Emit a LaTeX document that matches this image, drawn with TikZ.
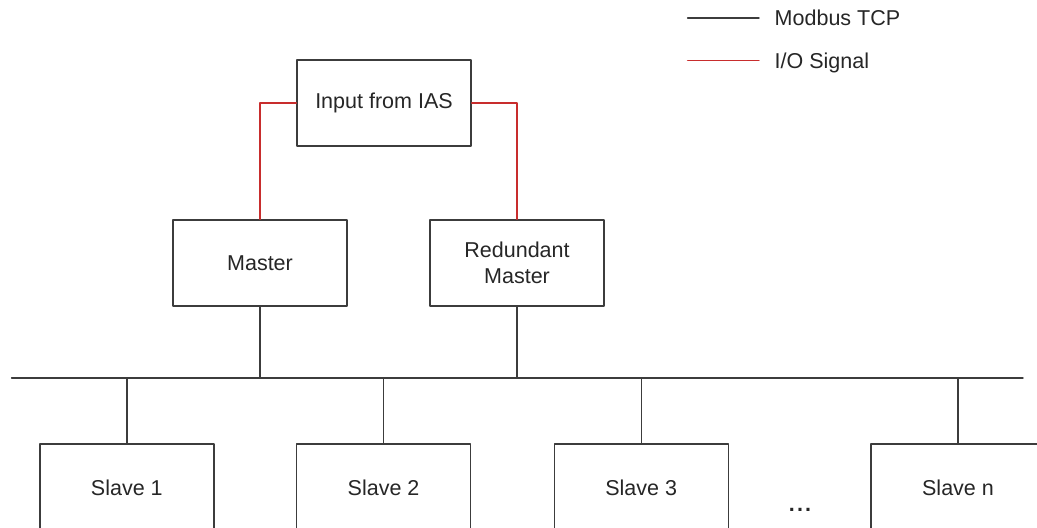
\documentclass[tikz,border=0pt]{standalone}
\usepackage{fontspec}
\setmainfont{Liberation Sans}

\definecolor{linegray}{RGB}{60,60,60}
\definecolor{iored}{RGB}{200,45,45}

\tikzset{
	unit/.style={draw=linegray, minimum width=4.35cm, minimum height=2.15cm, align=center, text=black!85},
	bus/.style={draw=linegray},
	signal/.style={draw=iored},
	legend/.style={anchor=base west, inner sep=0pt, text=black!85}
}

\begin{document}
\begin{tikzpicture}[line cap=round, line join=round, line width=1pt, font=\fontsize{15.3}{18.4}\selectfont]
				\clip (0,0) rectangle (25.925,13.2);
				% legend
				\coordinate (tcpA) at (17.19,12.75);
				\coordinate (tcpB) at (18.975,12.75);
				\coordinate (ioA) at (17.19,11.68);
				\coordinate (ioB) at (18.975,11.68);
				\draw[bus] (tcpA)--(tcpB);
				\draw[signal] (ioA)--(ioB);
				\node[legend] (tcp) at (19.35,12.555) {Modbus TCP};
				\node[legend] (io) at (19.35,11.485) {I/O Signal};
				% masters and the IAS input
				\node[unit] (ias) at (9.6,10.62) {Input from IAS};
				\node[unit] (master) at (6.5,6.625) {Master};
				\node[unit] (redundant) at (12.925,6.625) {Redundant\\Master};
				\draw[signal] (ias.west) -| (master.north);
				\draw[signal] (ias.east) -| (redundant.north);
				% network bus
				\coordinate (busL) at (0.29,3.75);
				\coordinate (busR) at (25.575,3.75);
				\draw[bus] (busL)--(busR);
				\draw[bus] (master.south)--(master.south |- busL);
				\draw[bus] (redundant.south)--(redundant.south |- busL);
				% slaves
				\foreach \n/\x/\t in {s1/3.17/Slave 1, s2/9.59/Slave 2, s3/16.03/Slave 3, sn/23.95/Slave n} {
					\node[unit, minimum height=2.2cm] (\n) at (\x,1.0) {\t};
					\draw[bus] (\n.north)--(\n.north |- busL);
				}
				\node[text=black!85, font=\fontsize{15.3}{18.4}\selectfont\bfseries] (dots) at (20.0,0.45) {.\kern1.5pt.\kern1.5pt.};
			\end{tikzpicture}
\end{document}
